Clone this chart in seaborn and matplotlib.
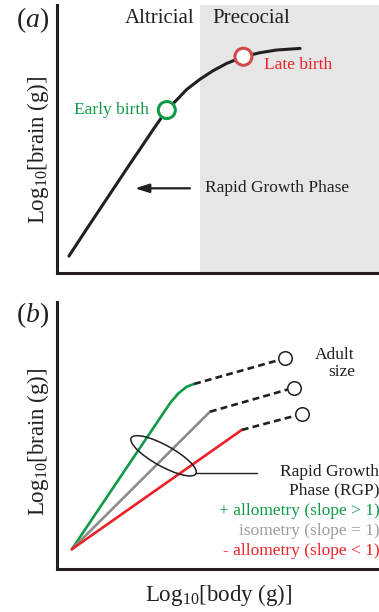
import numpy as np
import pandas as pd
import seaborn as sns
import matplotlib
matplotlib.use("Agg")
import matplotlib.pyplot as plt
from matplotlib.patches import Ellipse
from matplotlib import transforms

# ---------------- data (arbitrary log units, 0-10 on both axes) ----------------
# (a) brain growth trajectory
traj_body = [0.37, 0.97, 1.59, 2.21, 2.84, 2.99, 3.41, 3.72, 4.03, 4.44, 4.85, 5.27,
             5.79, 6.30, 6.82, 7.55]
traj_brain = [0.63, 1.73, 2.85, 3.97, 5.09, 5.36, 6.08, 6.46, 6.85, 7.23, 7.55, 7.82,
              8.07, 8.22, 8.32, 8.38]
precocial_start = 4.44
birth_labels = ["Early birth", "Late birth"]
birth_body = [3.41, 5.79]
birth_brain = [6.08, 8.07]

# (b) rapid growth phase for three scaling regimes, then post-RGP growth to adult size
regimes = ["+ allometry (slope > 1)", "isometry (slope = 1)", "- allometry (slope < 1)"]
rgp_body = {
    regimes[0]: [0.46, 3.51, 3.77, 4.03, 4.26],
    regimes[1]: [0.46, 4.75],
    regimes[2]: [0.46, 5.74],
}
rgp_brain = {
    regimes[0]: [0.74, 6.21, 6.58, 6.83, 6.93],
    regimes[1]: [0.74, 5.89],
    regimes[2]: [0.74, 5.21],
}
adult_body = [7.08, 7.36, 7.62]
adult_brain = [7.89, 6.79, 5.81]

# ---------------- style ----------------
sns.set_theme(style="white")
plt.rcParams["font.family"] = ["Liberation Serif", "DejaVu Serif"]
plt.rcParams["mathtext.fontset"] = "custom"
plt.rcParams["mathtext.rm"] = "Liberation Serif"
plt.rcParams["mathtext.it"] = "Liberation Serif:italic"
plt.rcParams["lines.solid_joinstyle"] = "round"

INK = "#231f20"
GREEN = "#0f9a48"
GREY = "#8c8c8c"
RED = "#ec2127"
LATE = "#d5484a"
regime_colors = [GREEN, GREY, RED]
text_colors = [GREEN, "#9d9d9d", RED]

W, H = 379, 612
fig = plt.figure(figsize=(W / 100, H / 100), dpi=100)
fig.patch.set_facecolor("white")

ax_a = fig.add_axes([57 / W, (H - 273) / H, (W - 57) / W, 268 / H])
ax_b = fig.add_axes([57 / W, (H - 569) / H, (W - 57) / W, 267 / H])

for ax in (ax_a, ax_b):
    ax.set_xlim(0, 10)
    ax.set_ylim(0, 10)
    ax.set_xticks([])
    ax.set_yticks([])
    ax.set_facecolor("white")
    for side in ("top", "right"):
        ax.spines[side].set_visible(False)
    for side in ("left", "bottom"):
        ax.spines[side].set_linewidth(2.2)
        ax.spines[side].set_color(INK)

# ---------------- panel (a) ----------------
ax_a.axvspan(precocial_start, 10, color="#e6e6e6", lw=0, zorder=0)
traj = pd.DataFrame({"body": traj_body, "brain": traj_brain})
sns.lineplot(data=traj, x="body", y="brain", sort=False, color=INK, lw=2.2, ax=ax_a, zorder=2)
births = pd.DataFrame({"body": birth_body, "brain": birth_brain, "stage": birth_labels})
sns.scatterplot(data=births, x="body", y="brain", hue="stage",
                palette={"Early birth": GREEN, "Late birth": LATE},
                s=150, linewidth=2.2, legend=False, ax=ax_a, zorder=3)
for coll in ax_a.collections:
    if coll.get_offsets().shape[0] == 2:
        coll.set_edgecolor([GREEN, LATE])
        coll.set_facecolor("white")
ax_a.set_xlabel("")
ax_a.set_ylabel("")

ax_a.text(2.86, birth_brain[0], birth_labels[0], color=GREEN, fontsize=12.5,
          ha="right", va="center")
ax_a.text(6.43, 7.76, birth_labels[1], color=RED, fontsize=12.5, ha="left", va="center")
ax_a.text(3.2, 9.5, "Altricial", color=INK, fontsize=15, ha="center", va="center")
ax_a.text(6.02, 9.5, "Precocial", color=INK, fontsize=15, ha="center", va="center")
ax_a.annotate("", xy=(2.42, 3.16), xytext=(4.13, 3.16),
              arrowprops=dict(arrowstyle="-|>,head_length=0.7,head_width=0.22",
                              color=INK, lw=1.6, shrinkA=0, shrinkB=0))
ax_a.text(4.6, 3.16, "Rapid Growth Phase", color=INK, fontsize=12.5, ha="left", va="center")

# ---------------- panel (b) ----------------
for i, reg in enumerate(regimes):
    seg = pd.DataFrame({"body": rgp_body[reg], "brain": rgp_brain[reg]})
    sns.lineplot(data=seg, x="body", y="brain", sort=False, color=regime_colors[i],
                 lw=1.9, ax=ax_b, zorder=2)
    post = pd.DataFrame({"body": [rgp_body[reg][-1], adult_body[i]],
                         "brain": [rgp_brain[reg][-1], adult_brain[i]]})
    sns.lineplot(data=post, x="body", y="brain", sort=False, color=INK, lw=1.9,
                 ax=ax_b, zorder=2).lines[-1].set_dashes((2.6, 1.6))
adults = pd.DataFrame({"body": adult_body, "brain": adult_brain})
sns.scatterplot(data=adults, x="body", y="brain", s=95, facecolor="white",
                edgecolor=INK, linewidth=1.1, ax=ax_b, zorder=4)
ax_b.set_xlabel("")
ax_b.set_ylabel("")

# ellipse marking the rapid growth phase
ell_trans = fig.dpi_scale_trans + transforms.ScaledTranslation(3.31, 4.24, ax_b.transData)
ax_b.add_patch(Ellipse((0, 0), width=0.74, height=0.21, angle=-29, transform=ell_trans,
                       fill=False, edgecolor=INK, lw=1.1, zorder=5))
ax_b.plot([4.29, 6.2], [3.61, 3.61], color=INK, lw=1.0, zorder=5)

ax_b.text(10.01, 3.63, "Rapid Growth", color=INK, fontsize=12.5, ha="right", va="center")
ax_b.text(10.01, 2.93, "Phase (RGP)", color=INK, fontsize=12.5, ha="right", va="center")
for i, reg in enumerate(regimes):
    ax_b.text(10.01, 2.18 - 0.75 * i, reg, color=text_colors[i], fontsize=12.5,
              ha="right", va="center")
ax_b.text(9.25, 8.03, "Adult", color=INK, fontsize=12.5, ha="right", va="center")
ax_b.text(9.25, 7.36, "size", color=INK, fontsize=12.5, ha="right", va="center")

# ---------------- panel letters and axis titles ----------------
fig.text(33 / W, 1 - 20 / H, "($a$)", fontsize=20, color=INK, ha="center", va="center")
fig.text(33 / W, 1 - 315 / H, "($b$)", fontsize=20, color=INK, ha="center", va="center")
fig.text(38 / W, 1 - 150 / H, "Log$_{10}$[brain (g)]", fontsize=16.5, color=INK,
         rotation=90, ha="center", va="center")
fig.text(38 / W, 1 - 442 / H, "Log$_{10}$[brain (g)]", fontsize=16.5, color=INK,
         rotation=90, ha="center", va="center")
fig.text(219 / W, 1 - 595 / H, "Log$_{10}$[body (g)]", fontsize=16.5, color=INK,
         ha="center", va="center")

fig.savefig("out.png", dpi=100, facecolor="white")
